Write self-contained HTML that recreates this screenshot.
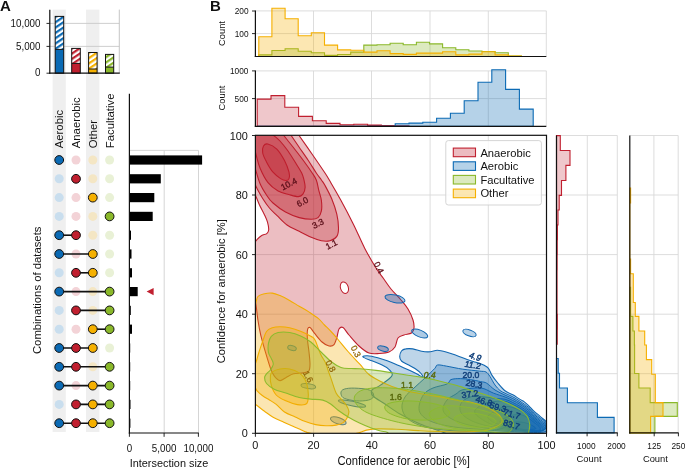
<!DOCTYPE html><html><head><meta charset="utf-8"><style>html,body{margin:0;padding:0;background:#fff;}svg{display:block;will-change:transform;}text{font-family:"Liberation Sans", sans-serif;}</style></head><body>
<svg width="685" height="468" viewBox="0 0 685 468">
<defs>
<pattern id="hb" patternUnits="userSpaceOnUse" width="4.4" height="10" patternTransform="rotate(56)"><rect width="4.4" height="10" fill="#fff"/><rect width="2.2" height="10" fill="#0b6ab4"/></pattern>
<pattern id="hr" patternUnits="userSpaceOnUse" width="4.4" height="10" patternTransform="rotate(56)"><rect width="4.4" height="10" fill="#fff"/><rect width="2.2" height="10" fill="#c01f2f"/></pattern>
<pattern id="hy" patternUnits="userSpaceOnUse" width="4.4" height="10" patternTransform="rotate(56)"><rect width="4.4" height="10" fill="#fff"/><rect width="2.2" height="10" fill="#f5b000"/></pattern>
<pattern id="hg" patternUnits="userSpaceOnUse" width="4.4" height="10" patternTransform="rotate(56)"><rect width="4.4" height="10" fill="#fff"/><rect width="2.2" height="10" fill="#8ab82a"/></pattern>
</defs>
<rect width="685" height="468" fill="#fff"/>
<rect x="52.6" y="9.6" width="13.2" height="422.4" fill="#efefef"/>
<rect x="86.0" y="9.6" width="13.4" height="422.4" fill="#efefef"/>
<line x1="49.8" y1="23.4" x2="119.3" y2="23.4" stroke="#c8c8c8" stroke-width="0.9"/>
<line x1="49.8" y1="46.4" x2="119.3" y2="46.4" stroke="#c8c8c8" stroke-width="0.9"/>
<line x1="119.3" y1="9.6" x2="119.3" y2="73.2" stroke="#c0c0c0" stroke-width="0.9"/>
<rect x="55.2" y="16.4" width="8.5" height="33.0" fill="url(#hb)"/>
<rect x="55.2" y="49.4" width="8.5" height="23.8" fill="#0b6ab4"/>
<rect x="55.2" y="16.4" width="8.5" height="56.8" fill="none" stroke="#111" stroke-width="1"/>
<line x1="55.2" y1="49.4" x2="63.7" y2="49.4" stroke="#111" stroke-width="1"/>
<rect x="71.7" y="48.4" width="8.6" height="15.0" fill="url(#hr)"/>
<rect x="71.7" y="63.4" width="8.6" height="9.8" fill="#c01f2f"/>
<rect x="71.7" y="48.4" width="8.6" height="24.8" fill="none" stroke="#111" stroke-width="1"/>
<line x1="71.7" y1="63.4" x2="80.3" y2="63.4" stroke="#111" stroke-width="1"/>
<rect x="88.6" y="52.5" width="8.5" height="16.5" fill="url(#hy)"/>
<rect x="88.6" y="69.0" width="8.5" height="4.2" fill="#f5b000"/>
<rect x="88.6" y="52.5" width="8.5" height="20.7" fill="none" stroke="#111" stroke-width="1"/>
<line x1="88.6" y1="69.0" x2="97.1" y2="69.0" stroke="#111" stroke-width="1"/>
<rect x="105.5" y="54.4" width="8.2" height="12.7" fill="url(#hg)"/>
<rect x="105.5" y="67.1" width="8.2" height="6.1" fill="#8ab82a"/>
<rect x="105.5" y="54.4" width="8.2" height="18.8" fill="none" stroke="#111" stroke-width="1"/>
<line x1="105.5" y1="67.1" x2="113.7" y2="67.1" stroke="#111" stroke-width="1"/>
<line x1="49.8" y1="9.8" x2="49.8" y2="73.8" stroke="#111" stroke-width="1.2"/>
<line x1="49.2" y1="73.2" x2="119.8" y2="73.2" stroke="#111" stroke-width="1.2"/>
<line x1="46.5" y1="23.4" x2="49.8" y2="23.4" stroke="#111" stroke-width="0.9"/>
<text x="40.5" y="26.7" font-size="9.8" text-anchor="end" font-weight="normal" fill="#111" transform="translate(40.5 26.7) scale(1 1.1) translate(-40.5 -26.7)">10,000</text>
<line x1="46.5" y1="46.4" x2="49.8" y2="46.4" stroke="#111" stroke-width="0.9"/>
<text x="40.5" y="49.699999999999996" font-size="9.8" text-anchor="end" font-weight="normal" fill="#111" transform="translate(40.5 49.699999999999996) scale(1 1.1) translate(-40.5 -49.699999999999996)">5,000</text>
<line x1="46.5" y1="73.2" x2="49.8" y2="73.2" stroke="#111" stroke-width="0.9"/>
<text x="40.5" y="76.5" font-size="9.8" text-anchor="end" font-weight="normal" fill="#111" transform="translate(40.5 76.5) scale(1 1.1) translate(-40.5 -76.5)">0</text>
<text x="63.2" y="148.2" font-size="11.3" text-anchor="start" font-weight="normal" fill="#111" transform="rotate(-90 63.2 148.2)">Aerobic</text>
<text x="80.0" y="148.2" font-size="11.3" text-anchor="start" font-weight="normal" fill="#111" transform="rotate(-90 80.0 148.2)">Anaerobic</text>
<text x="96.8" y="148.2" font-size="11.3" text-anchor="start" font-weight="normal" fill="#111" transform="rotate(-90 96.8 148.2)">Other</text>
<text x="113.6" y="148.2" font-size="11.3" text-anchor="start" font-weight="normal" fill="#111" transform="rotate(-90 113.6 148.2)">Facultative</text>
<text x="41.3" y="290.3" font-size="11.3" text-anchor="middle" font-weight="normal" fill="#111" transform="rotate(-90 41.3 290.3)">Combinations of datasets</text>
<circle cx="76.0" cy="160.0" r="4.5" fill="#f3d3d7"/>
<circle cx="92.8" cy="160.0" r="4.5" fill="#f4e6c4"/>
<circle cx="109.6" cy="160.0" r="4.5" fill="#e9f1d6"/>
<circle cx="59.2" cy="160.0" r="4.4" fill="#0b6ab4" stroke="#111" stroke-width="1"/>
<circle cx="59.2" cy="178.8" r="4.5" fill="#c9deee"/>
<circle cx="92.8" cy="178.8" r="4.5" fill="#f4e6c4"/>
<circle cx="109.6" cy="178.8" r="4.5" fill="#e9f1d6"/>
<circle cx="76.0" cy="178.8" r="4.4" fill="#c01f2f" stroke="#111" stroke-width="1"/>
<circle cx="59.2" cy="197.6" r="4.5" fill="#c9deee"/>
<circle cx="76.0" cy="197.6" r="4.5" fill="#f3d3d7"/>
<circle cx="109.6" cy="197.6" r="4.5" fill="#e9f1d6"/>
<circle cx="92.8" cy="197.6" r="4.4" fill="#f5b000" stroke="#111" stroke-width="1"/>
<circle cx="59.2" cy="216.4" r="4.5" fill="#c9deee"/>
<circle cx="76.0" cy="216.4" r="4.5" fill="#f3d3d7"/>
<circle cx="92.8" cy="216.4" r="4.5" fill="#f4e6c4"/>
<circle cx="109.6" cy="216.4" r="4.4" fill="#8ab82a" stroke="#111" stroke-width="1"/>
<circle cx="92.8" cy="235.2" r="4.5" fill="#f4e6c4"/>
<circle cx="109.6" cy="235.2" r="4.5" fill="#e9f1d6"/>
<line x1="59.2" y1="235.2" x2="76.0" y2="235.2" stroke="#111" stroke-width="1.6"/>
<circle cx="59.2" cy="235.2" r="4.4" fill="#0b6ab4" stroke="#111" stroke-width="1"/>
<circle cx="76.0" cy="235.2" r="4.4" fill="#c01f2f" stroke="#111" stroke-width="1"/>
<circle cx="76.0" cy="254.0" r="4.5" fill="#f3d3d7"/>
<circle cx="109.6" cy="254.0" r="4.5" fill="#e9f1d6"/>
<line x1="59.2" y1="254.0" x2="92.8" y2="254.0" stroke="#111" stroke-width="1.6"/>
<circle cx="59.2" cy="254.0" r="4.4" fill="#0b6ab4" stroke="#111" stroke-width="1"/>
<circle cx="92.8" cy="254.0" r="4.4" fill="#f5b000" stroke="#111" stroke-width="1"/>
<circle cx="59.2" cy="272.8" r="4.5" fill="#c9deee"/>
<circle cx="109.6" cy="272.8" r="4.5" fill="#e9f1d6"/>
<line x1="76.0" y1="272.8" x2="92.8" y2="272.8" stroke="#111" stroke-width="1.6"/>
<circle cx="76.0" cy="272.8" r="4.4" fill="#c01f2f" stroke="#111" stroke-width="1"/>
<circle cx="92.8" cy="272.8" r="4.4" fill="#f5b000" stroke="#111" stroke-width="1"/>
<circle cx="76.0" cy="291.6" r="4.5" fill="#f3d3d7"/>
<circle cx="92.8" cy="291.6" r="4.5" fill="#f4e6c4"/>
<line x1="59.2" y1="291.6" x2="109.6" y2="291.6" stroke="#111" stroke-width="1.6"/>
<circle cx="59.2" cy="291.6" r="4.4" fill="#0b6ab4" stroke="#111" stroke-width="1"/>
<circle cx="109.6" cy="291.6" r="4.4" fill="#8ab82a" stroke="#111" stroke-width="1"/>
<circle cx="59.2" cy="310.4" r="4.5" fill="#c9deee"/>
<circle cx="92.8" cy="310.4" r="4.5" fill="#f4e6c4"/>
<line x1="76.0" y1="310.4" x2="109.6" y2="310.4" stroke="#111" stroke-width="1.6"/>
<circle cx="76.0" cy="310.4" r="4.4" fill="#c01f2f" stroke="#111" stroke-width="1"/>
<circle cx="109.6" cy="310.4" r="4.4" fill="#8ab82a" stroke="#111" stroke-width="1"/>
<circle cx="59.2" cy="329.2" r="4.5" fill="#c9deee"/>
<circle cx="76.0" cy="329.2" r="4.5" fill="#f3d3d7"/>
<line x1="92.8" y1="329.2" x2="109.6" y2="329.2" stroke="#111" stroke-width="1.6"/>
<circle cx="92.8" cy="329.2" r="4.4" fill="#f5b000" stroke="#111" stroke-width="1"/>
<circle cx="109.6" cy="329.2" r="4.4" fill="#8ab82a" stroke="#111" stroke-width="1"/>
<circle cx="109.6" cy="348.0" r="4.5" fill="#e9f1d6"/>
<line x1="59.2" y1="348.0" x2="92.8" y2="348.0" stroke="#111" stroke-width="1.6"/>
<circle cx="59.2" cy="348.0" r="4.4" fill="#0b6ab4" stroke="#111" stroke-width="1"/>
<circle cx="76.0" cy="348.0" r="4.4" fill="#c01f2f" stroke="#111" stroke-width="1"/>
<circle cx="92.8" cy="348.0" r="4.4" fill="#f5b000" stroke="#111" stroke-width="1"/>
<circle cx="92.8" cy="366.8" r="4.5" fill="#f4e6c4"/>
<line x1="59.2" y1="366.8" x2="109.6" y2="366.8" stroke="#111" stroke-width="1.6"/>
<circle cx="59.2" cy="366.8" r="4.4" fill="#0b6ab4" stroke="#111" stroke-width="1"/>
<circle cx="76.0" cy="366.8" r="4.4" fill="#c01f2f" stroke="#111" stroke-width="1"/>
<circle cx="109.6" cy="366.8" r="4.4" fill="#8ab82a" stroke="#111" stroke-width="1"/>
<circle cx="76.0" cy="385.6" r="4.5" fill="#f3d3d7"/>
<line x1="59.2" y1="385.6" x2="109.6" y2="385.6" stroke="#111" stroke-width="1.6"/>
<circle cx="59.2" cy="385.6" r="4.4" fill="#0b6ab4" stroke="#111" stroke-width="1"/>
<circle cx="92.8" cy="385.6" r="4.4" fill="#f5b000" stroke="#111" stroke-width="1"/>
<circle cx="109.6" cy="385.6" r="4.4" fill="#8ab82a" stroke="#111" stroke-width="1"/>
<circle cx="59.2" cy="404.4" r="4.5" fill="#c9deee"/>
<line x1="76.0" y1="404.4" x2="109.6" y2="404.4" stroke="#111" stroke-width="1.6"/>
<circle cx="76.0" cy="404.4" r="4.4" fill="#c01f2f" stroke="#111" stroke-width="1"/>
<circle cx="92.8" cy="404.4" r="4.4" fill="#f5b000" stroke="#111" stroke-width="1"/>
<circle cx="109.6" cy="404.4" r="4.4" fill="#8ab82a" stroke="#111" stroke-width="1"/>
<line x1="59.2" y1="423.2" x2="109.6" y2="423.2" stroke="#111" stroke-width="1.6"/>
<circle cx="59.2" cy="423.2" r="4.4" fill="#0b6ab4" stroke="#111" stroke-width="1"/>
<circle cx="76.0" cy="423.2" r="4.4" fill="#c01f2f" stroke="#111" stroke-width="1"/>
<circle cx="92.8" cy="423.2" r="4.4" fill="#f5b000" stroke="#111" stroke-width="1"/>
<circle cx="109.6" cy="423.2" r="4.4" fill="#8ab82a" stroke="#111" stroke-width="1"/>
<line x1="164.2" y1="150.4" x2="164.2" y2="433" stroke="#d0d0d0" stroke-width="0.9"/>
<line x1="198.5" y1="150.4" x2="198.5" y2="433" stroke="#d0d0d0" stroke-width="0.9"/>
<line x1="129.4" y1="150.4" x2="198.5" y2="150.4" stroke="#d0d0d0" stroke-width="0.9"/>
<rect x="129.4" y="155.4" width="72.7" height="9.2" fill="#000"/>
<rect x="129.4" y="174.2" width="31.4" height="9.2" fill="#000"/>
<rect x="129.4" y="193.0" width="24.9" height="9.2" fill="#000"/>
<rect x="129.4" y="211.8" width="23.3" height="9.2" fill="#000"/>
<rect x="129.4" y="230.6" width="1.6" height="9.2" fill="#000"/>
<rect x="129.4" y="249.4" width="2.1" height="9.2" fill="#000"/>
<rect x="129.4" y="268.2" width="2.6" height="9.2" fill="#000"/>
<rect x="129.4" y="287.0" width="8.3" height="9.2" fill="#000"/>
<rect x="129.4" y="305.8" width="1.4" height="9.2" fill="#000"/>
<rect x="129.4" y="324.6" width="2.6" height="9.2" fill="#000"/>
<rect x="129.4" y="343.4" width="0.8" height="9.2" fill="#000"/>
<rect x="129.4" y="362.2" width="0.8" height="9.2" fill="#000"/>
<rect x="129.4" y="381.0" width="0.8" height="9.2" fill="#000"/>
<rect x="129.4" y="399.8" width="1.1" height="9.2" fill="#000"/>
<rect x="129.4" y="418.6" width="1.0" height="9.2" fill="#000"/>
<path d="M146.6,291.6 L153.6,288.0 L153.6,295.2Z" fill="#c01f2f"/>
<line x1="129.4" y1="93.7" x2="129.4" y2="433.6" stroke="#111" stroke-width="1.2"/>
<line x1="128.8" y1="433.0" x2="198.8" y2="433.0" stroke="#111" stroke-width="1.2"/>
<line x1="129.4" y1="433" x2="129.4" y2="436.8" stroke="#111" stroke-width="0.9"/>
<text x="129.4" y="451.7" font-size="9.8" text-anchor="middle" font-weight="normal" fill="#111" transform="translate(129.4 451.7) scale(1 1.12) translate(-129.4 -451.7)">0</text>
<line x1="164.1" y1="433" x2="164.1" y2="436.8" stroke="#111" stroke-width="0.9"/>
<text x="164.1" y="451.7" font-size="9.8" text-anchor="middle" font-weight="normal" fill="#111" transform="translate(164.1 451.7) scale(1 1.12) translate(-164.1 -451.7)">5,000</text>
<line x1="198.4" y1="433" x2="198.4" y2="436.8" stroke="#111" stroke-width="0.9"/>
<text x="198.4" y="451.7" font-size="9.8" text-anchor="middle" font-weight="normal" fill="#111" transform="translate(198.4 451.7) scale(1 1.12) translate(-198.4 -451.7)">10,000</text>
<text x="169.0" y="466.8" font-size="10.9" text-anchor="middle" font-weight="normal" fill="#111">Intersection size</text>
<line x1="313.5" y1="10.9" x2="313.5" y2="56.5" stroke="#d9d9d9" stroke-width="0.9"/>
<line x1="371.5" y1="10.9" x2="371.5" y2="56.5" stroke="#d9d9d9" stroke-width="0.9"/>
<line x1="430.0" y1="10.9" x2="430.0" y2="56.5" stroke="#d9d9d9" stroke-width="0.9"/>
<line x1="488.3" y1="10.9" x2="488.3" y2="56.5" stroke="#d9d9d9" stroke-width="0.9"/>
<line x1="546.3" y1="10.9" x2="546.3" y2="56.5" stroke="#d9d9d9" stroke-width="0.9"/>
<line x1="255.4" y1="10.9" x2="546.3" y2="10.9" stroke="#d9d9d9" stroke-width="0.9"/>
<line x1="255.4" y1="33.6" x2="546.3" y2="33.6" stroke="#d9d9d9" stroke-width="0.9"/>
<path d="M258.8,56.5 L258.8,54.9 L271.9,54.9 L271.9,50.5 L285.1,50.5 L285.1,48.8 L298.2,48.8 L298.2,51.2 L311.3,51.2 L311.3,52.7 L324.5,52.7 L324.5,55.4 L337.6,55.4 L337.6,54.5 L350.7,54.5 L350.7,52.1 L363.8,52.1 L363.8,45.1 L377.0,45.1 L377.0,44.7 L390.1,44.7 L390.1,43.3 L403.2,43.3 L403.2,44.7 L416.4,44.7 L416.4,42.3 L429.5,42.3 L429.5,43.9 L442.6,43.9 L442.6,47.8 L455.8,47.8 L455.8,49.7 L468.9,49.7 L468.9,51.0 L482.0,51.0 L482.0,51.5 L495.1,51.5 L495.1,52.8 L508.3,52.8 L508.3,56.0 L521.4,56.0 L521.4,56.5Z" fill="#8ab82a" fill-opacity="0.3" stroke="#8ab82a" stroke-width="1.1" stroke-linejoin="miter"/>
<path d="M258.8,56.5 L258.8,36.7 L271.9,36.7 L271.9,8.3 L285.1,8.3 L285.1,18.8 L298.2,18.8 L298.2,35.7 L311.3,35.7 L311.3,32.8 L324.5,32.8 L324.5,45.1 L337.6,45.1 L337.6,49.9 L350.7,49.9 L350.7,50.3 L363.8,50.3 L363.8,52.1 L377.0,52.1 L377.0,50.7 L390.1,50.7 L390.1,53.6 L403.2,53.6 L403.2,54.4 L416.4,54.4 L416.4,53.1 L429.5,53.1 L429.5,53.1 L442.6,53.1 L442.6,51.8 L455.8,51.8 L455.8,54.9 L468.9,54.9 L468.9,54.1 L482.0,54.1 L482.0,51.8 L495.1,51.8 L495.1,54.9 L508.3,54.9 L508.3,56.0 L521.4,56.0 L521.4,56.5Z" fill="#f5b000" fill-opacity="0.3" stroke="#f5b000" stroke-width="1.1"/>
<line x1="255.4" y1="10.5" x2="255.4" y2="57.0" stroke="#111" stroke-width="1.2"/>
<line x1="254.8" y1="56.5" x2="546.3" y2="56.5" stroke="#111" stroke-width="1.2"/>
<line x1="252" y1="11.0" x2="255.4" y2="11.0" stroke="#111" stroke-width="0.9"/>
<text x="248.6" y="14.0" font-size="8.3" text-anchor="end" font-weight="normal" fill="#111">200</text>
<line x1="252" y1="33.6" x2="255.4" y2="33.6" stroke="#111" stroke-width="0.9"/>
<text x="248.6" y="36.6" font-size="8.3" text-anchor="end" font-weight="normal" fill="#111">100</text>
<text x="225.3" y="33.5" font-size="9.3" text-anchor="middle" font-weight="normal" fill="#111" transform="rotate(-90 225.3 33.5)">Count</text>
<line x1="313.5" y1="70.9" x2="313.5" y2="126.3" stroke="#d9d9d9" stroke-width="0.9"/>
<line x1="371.5" y1="70.9" x2="371.5" y2="126.3" stroke="#d9d9d9" stroke-width="0.9"/>
<line x1="430.0" y1="70.9" x2="430.0" y2="126.3" stroke="#d9d9d9" stroke-width="0.9"/>
<line x1="488.3" y1="70.9" x2="488.3" y2="126.3" stroke="#d9d9d9" stroke-width="0.9"/>
<line x1="546.3" y1="70.9" x2="546.3" y2="126.3" stroke="#d9d9d9" stroke-width="0.9"/>
<line x1="255.4" y1="70.9" x2="546.3" y2="70.9" stroke="#d9d9d9" stroke-width="0.9"/>
<line x1="255.4" y1="98.6" x2="546.3" y2="98.6" stroke="#d9d9d9" stroke-width="0.9"/>
<path d="M257.2,126.3 L257.2,99.1 L271.0,99.1 L271.0,95.6 L284.8,95.6 L284.8,107.3 L298.6,107.3 L298.6,116.4 L312.4,116.4 L312.4,120.7 L326.2,120.7 L326.2,123.4 L340.0,123.4 L340.0,124.8 L353.8,124.8 L353.8,124.2 L367.6,124.2 L367.6,125.1 L381.4,125.1 L381.4,125.6 L395.2,125.6 L395.2,125.8 L409.0,125.8 L409.0,126.3Z" fill="#c01f2f" fill-opacity="0.25" stroke="#c01f2f" stroke-width="1.1"/>
<path d="M257.2,126.3 L257.2,126.3 L271.0,126.3 L271.0,126.3 L284.8,126.3 L284.8,126.3 L298.6,126.3 L298.6,126.3 L312.4,126.3 L312.4,126.3 L326.2,126.3 L326.2,126.3 L340.0,126.3 L340.0,126.3 L353.8,126.3 L353.8,126.3 L367.6,126.3 L367.6,126.3 L381.4,126.3 L381.4,126.3 L395.2,126.3 L395.2,123.8 L409.0,123.8 L409.0,123.1 L422.8,123.1 L422.8,122.3 L436.6,122.3 L436.6,118.3 L450.4,118.3 L450.4,113.3 L464.2,113.3 L464.2,100.7 L478.0,100.7 L478.0,82.3 L491.8,82.3 L491.8,69.7 L505.6,69.7 L505.6,89.4 L519.4,89.4 L519.4,109.1 L533.2,109.1 L533.2,126.3Z" fill="#0b6ab4" fill-opacity="0.3" stroke="#0b6ab4" stroke-width="1.1"/>
<line x1="255.4" y1="70.5" x2="255.4" y2="126.8" stroke="#111" stroke-width="1.2"/>
<line x1="254.8" y1="126.3" x2="546.3" y2="126.3" stroke="#111" stroke-width="1.2"/>
<line x1="252" y1="70.9" x2="255.4" y2="70.9" stroke="#111" stroke-width="0.9"/>
<text x="248.4" y="73.9" font-size="8.3" text-anchor="end" font-weight="normal" fill="#111">1000</text>
<line x1="252" y1="98.6" x2="255.4" y2="98.6" stroke="#111" stroke-width="0.9"/>
<text x="248.4" y="101.6" font-size="8.3" text-anchor="end" font-weight="normal" fill="#111">500</text>
<text x="225.3" y="98.0" font-size="9.3" text-anchor="middle" font-weight="normal" fill="#111" transform="rotate(-90 225.3 98.0)">Count</text>
<clipPath id="mc"><rect x="255.4" y="135.3" width="291.1" height="298.0"/></clipPath>
<line x1="313.6" y1="135.3" x2="313.6" y2="433.3" stroke="#d9d9d9" stroke-width="0.9"/>
<line x1="255.4" y1="373.7" x2="546.5" y2="373.7" stroke="#d9d9d9" stroke-width="0.9"/>
<line x1="371.8" y1="135.3" x2="371.8" y2="433.3" stroke="#d9d9d9" stroke-width="0.9"/>
<line x1="255.4" y1="314.2" x2="546.5" y2="314.2" stroke="#d9d9d9" stroke-width="0.9"/>
<line x1="430.1" y1="135.3" x2="430.1" y2="433.3" stroke="#d9d9d9" stroke-width="0.9"/>
<line x1="255.4" y1="254.6" x2="546.5" y2="254.6" stroke="#d9d9d9" stroke-width="0.9"/>
<line x1="488.3" y1="135.3" x2="488.3" y2="433.3" stroke="#d9d9d9" stroke-width="0.9"/>
<line x1="255.4" y1="195.0" x2="546.5" y2="195.0" stroke="#d9d9d9" stroke-width="0.9"/>
<g clip-path="url(#mc)">
<path d="M291.7,125.0 C292.9,126.7 295.3,130.2 298.7,135.0 C302.1,139.8 307.6,147.7 312.0,154.0 C316.4,160.3 321.8,168.2 325.0,173.0 C328.2,177.8 328.3,178.4 331.0,183.0 C333.7,187.6 337.2,193.6 341.0,200.5 C344.8,207.4 349.5,216.4 353.5,224.4 C357.5,232.4 361.1,241.1 364.8,248.4 C368.6,255.7 372.9,263.0 376.0,268.0 C379.1,273.0 381.0,275.0 383.5,278.5 C386.0,282.0 388.1,285.4 391.0,289.0 C393.9,292.6 398.2,296.7 401.0,300.0 C403.8,303.3 406.0,305.7 408.0,309.0 C410.0,312.3 412.0,316.8 413.0,320.0 C414.0,323.2 414.2,325.8 414.0,328.0 C413.8,330.2 413.2,331.8 411.5,333.0 C409.8,334.2 406.2,334.2 404.0,335.0 C401.8,335.8 399.5,336.0 398.0,338.0 C396.5,340.0 396.5,344.7 395.0,347.0 C393.5,349.3 391.7,350.9 389.0,352.0 C386.3,353.1 382.3,353.3 379.0,353.5 C375.7,353.7 372.3,354.2 369.0,353.0 C365.7,351.8 362.3,349.0 359.0,346.0 C355.7,343.0 351.7,338.1 349.0,335.0 C346.3,331.9 344.7,328.5 343.0,327.5 C341.3,326.5 340.0,327.4 339.0,329.0 C338.0,330.6 337.8,334.4 337.0,337.0 C336.2,339.6 335.3,343.1 334.0,344.6 C332.7,346.1 331.0,346.4 329.0,346.0 C327.0,345.6 324.4,344.1 322.0,342.0 C319.6,339.9 316.6,335.8 314.6,333.4 C312.6,331.0 311.2,328.1 310.0,327.5 C308.8,326.9 307.9,327.9 307.5,330.0 C307.1,332.1 307.2,336.3 307.5,340.0 C307.8,343.7 308.6,348.0 309.0,352.0 C309.4,356.0 310.0,360.8 310.0,364.0 C310.0,367.2 309.9,369.5 308.8,371.0 C307.7,372.5 305.7,372.4 303.1,372.9 C300.6,373.4 296.4,373.0 293.5,373.8 C290.6,374.6 288.1,376.6 285.8,377.7 C283.6,378.8 281.9,380.9 280.0,380.6 C278.1,380.3 275.8,377.9 274.2,375.8 C272.6,373.7 271.8,372.0 270.4,368.1 C269.0,364.2 267.2,358.1 265.6,352.7 C264.0,347.2 262.1,340.8 260.8,335.4 C259.5,329.9 258.7,325.1 257.9,320.0 C257.1,314.9 256.8,310.0 256.0,305.0 C255.2,300.0 253.5,292.5 253.0,290.0 L250,290 L250,246 L253.0,245.0 C253.7,244.1 255.8,241.0 257.2,239.4 C258.6,237.8 260.1,236.5 261.7,235.5 C263.3,234.5 265.6,234.6 266.8,233.6 C268.0,232.6 268.6,231.6 268.7,229.7 C268.8,227.8 268.2,224.6 267.5,222.1 C266.8,219.6 265.6,217.2 264.3,214.4 C263.0,211.6 260.8,207.8 259.5,205.0 C258.2,202.2 257.3,199.7 256.4,197.5 C255.4,195.3 254.2,192.9 253.8,192.0 L250,189 L250,125Z" fill="#be1e2d" fill-opacity="0.29" stroke="#be1e2d" stroke-width="1.1" stroke-linejoin="round"/>
<path d="M286.0,128.0 C286.8,129.2 288.6,131.8 290.8,135.0 C293.0,138.2 296.1,142.8 299.0,147.0 C301.9,151.2 305.1,155.7 308.0,160.0 C310.9,164.3 314.1,169.7 316.3,173.0 C318.5,176.3 320.0,178.0 321.4,180.0 C322.8,182.0 323.1,182.0 324.8,185.1 C326.5,188.2 329.7,194.0 331.7,198.8 C333.7,203.7 335.7,209.3 336.8,214.2 C337.9,219.0 338.5,224.2 338.5,227.9 C338.5,231.6 338.2,234.3 336.8,236.4 C335.4,238.5 332.6,240.0 330.0,240.7 C327.4,241.4 324.5,241.3 321.4,240.7 C318.3,240.1 314.9,238.9 311.2,237.3 C307.5,235.7 303.2,233.4 299.2,231.3 C295.2,229.2 290.7,227.6 287.0,225.0 C283.3,222.4 280.0,218.4 277.1,215.6 C274.2,212.8 271.8,210.8 269.4,208.0 C267.0,205.2 264.9,202.0 263.0,199.0 C261.1,196.0 259.3,192.8 257.8,190.0 C256.3,187.2 255.1,184.3 254.0,182.0 C252.9,179.7 251.5,177.0 251.0,176.0 L250.0,176.0 L250.0,128.0Z" fill="#be1e2d" fill-opacity="0.29" stroke="#be1e2d" stroke-width="1.1" stroke-linejoin="round"/>
<path d="M278.5,128.0 C279.3,129.2 281.0,131.8 283.4,135.0 C285.8,138.2 289.7,142.8 293.0,147.0 C296.3,151.2 299.8,155.7 303.0,160.0 C306.2,164.3 310.0,169.7 312.2,173.0 C314.4,176.3 315.2,177.1 316.3,180.0 C317.4,182.9 318.0,186.9 318.8,190.3 C319.6,193.7 321.0,197.1 321.4,200.5 C321.8,203.9 322.0,208.0 321.4,210.8 C320.8,213.7 319.7,216.2 318.0,217.6 C316.3,219.0 314.3,219.3 311.2,219.3 C308.1,219.3 303.5,218.8 299.2,217.6 C294.9,216.4 289.9,214.4 285.5,212.0 C281.1,209.6 276.2,205.8 273.0,203.0 C269.8,200.2 268.6,198.2 266.5,195.0 C264.4,191.8 261.9,187.9 260.1,183.7 C258.3,179.5 256.7,173.0 255.6,169.6 C254.5,166.2 253.8,164.1 253.5,163.0 L250.0,163.0 L250.0,128.0Z" fill="#be1e2d" fill-opacity="0.29" stroke="#be1e2d" stroke-width="1.1" stroke-linejoin="round"/>
<path d="M268.5,129.0 C269.3,130.0 271.4,133.0 273.3,135.0 C275.2,137.0 277.6,138.3 280.0,141.0 C282.4,143.7 285.2,147.0 288.0,151.0 C290.8,155.0 294.6,161.3 296.9,165.0 C299.2,168.7 300.6,170.8 301.7,173.0 C302.8,175.2 303.0,176.1 303.6,178.5 C304.2,180.9 305.2,184.8 305.1,187.4 C305.0,190.0 304.0,192.7 302.9,194.2 C301.8,195.7 300.8,196.5 298.4,196.6 C296.0,196.7 292.1,195.4 288.7,194.5 C285.3,193.6 281.6,193.0 278.1,191.0 C274.6,189.0 270.8,186.2 267.8,182.4 C264.8,178.6 262.0,172.8 260.1,168.3 C258.2,163.8 257.2,158.9 256.3,155.5 C255.4,152.1 254.8,149.2 254.5,148.0 L250.0,148.0 L250.0,129.0Z" fill="#be1e2d" fill-opacity="0.29" stroke="#be1e2d" stroke-width="1.1" stroke-linejoin="round"/>
<path d="M263.5,146.0 C264.4,144.5 265.6,143.5 267.8,144.0 C270.0,144.5 274.0,146.3 276.8,149.1 C279.6,151.9 282.5,156.8 284.5,160.6 C286.5,164.4 288.2,169.2 289.0,172.2 C289.8,175.2 289.5,177.2 289.0,178.6 C288.5,180.0 287.2,180.5 285.8,180.5 C284.4,180.5 282.7,180.0 280.6,178.6 C278.5,177.2 275.4,175.0 273.0,172.2 C270.6,169.4 268.2,165.1 266.5,161.9 C264.8,158.7 263.2,155.7 262.7,153.0 C262.2,150.3 262.6,147.5 263.5,146.0Z" fill="#be1e2d" fill-opacity="0.29" stroke="#be1e2d" stroke-width="1.1" stroke-linejoin="round"/>
<ellipse cx="344.4" cy="287.7" rx="3.9" ry="5.9" transform="rotate(-18 344.4 287.7)" fill="#fff" stroke="#be1e2d" stroke-width="1.0"/>
<path d="M363.0,357.0 C362.2,356.1 364.8,355.6 367.3,355.7 C369.8,355.8 374.5,356.9 377.8,357.8 C381.1,358.7 384.2,359.7 387.2,360.8 C390.2,361.9 393.1,363.1 395.7,364.2 C398.3,365.3 400.4,366.4 403.0,367.5 C405.6,368.6 408.5,369.8 411.0,371.0 C413.5,372.2 416.0,373.4 418.0,374.5 C420.0,375.6 422.5,377.7 423.0,377.5 C423.5,377.3 422.3,375.0 421.0,373.5 C419.7,372.0 417.2,370.0 415.0,368.5 C412.8,367.0 409.9,365.8 407.6,364.5 C405.4,363.2 402.8,362.3 401.5,361.0 C400.2,359.7 399.7,358.2 399.7,356.5 C399.7,354.8 400.5,352.3 401.5,351.0 C402.5,349.7 403.9,349.2 405.8,348.9 C407.7,348.5 410.2,348.5 412.8,348.9 C415.4,349.3 418.7,350.8 421.6,351.3 C424.5,351.8 427.7,352.0 430.3,351.8 C432.9,351.6 434.7,350.3 437.3,350.3 C439.9,350.3 442.9,351.1 446.1,352.0 C449.3,352.9 453.1,354.3 456.6,355.5 C460.1,356.7 464.0,358.3 467.1,359.4 C470.2,360.5 472.8,361.3 475.0,362.0 C477.2,362.7 478.6,363.0 480.6,363.8 C482.6,364.6 485.5,366.0 487.0,367.0 C488.5,368.0 488.5,368.6 489.4,370.0 C490.3,371.4 490.8,373.4 492.2,375.6 C493.6,377.8 495.7,380.5 497.8,383.0 C499.9,385.5 502.5,388.8 505.0,390.8 C507.5,392.8 510.3,393.4 512.8,394.8 C515.3,396.2 518.0,398.2 520.0,399.4 C522.0,400.6 523.1,401.0 524.6,402.1 C526.1,403.2 527.2,404.3 528.8,405.8 C530.4,407.3 532.2,409.5 534.2,411.3 C536.2,413.1 538.7,415.1 540.6,416.8 C542.5,418.5 544.7,419.9 545.9,421.3 C547.1,422.7 547.1,423.2 548.0,425.0 C548.9,426.8 552.3,429.2 551.0,432.0 C549.7,434.8 555.2,440.3 540.0,442.0 C524.8,443.7 475.8,443.5 460.0,442.0 C444.2,440.5 451.7,436.0 445.0,433.0 C438.3,430.0 427.5,427.2 420.0,424.0 C412.5,420.8 405.8,417.3 400.0,414.0 C394.2,410.7 389.5,407.0 385.0,404.0 C380.5,401.0 375.2,398.3 373.0,396.0 C370.8,393.7 371.1,391.6 372.0,390.0 C372.9,388.4 375.8,388.2 378.6,386.4 C381.4,384.6 386.6,381.0 388.9,379.0 C391.2,377.0 392.3,376.0 392.3,374.4 C392.3,372.8 390.6,370.9 388.9,369.3 C387.2,367.7 385.0,366.4 382.1,365.0 C379.2,363.6 375.0,362.1 371.8,360.8 C368.6,359.5 363.8,357.9 363.0,357.0Z" fill="#1167b1" fill-opacity="0.28" stroke="#1167b1" stroke-width="1.1" stroke-linejoin="round"/>
<path d="M434.7,368.5 C436.8,366.3 435.6,365.4 437.5,365.0 C439.4,364.6 442.1,365.4 446.3,366.1 C450.5,366.8 457.3,368.4 462.8,369.2 C468.3,370.0 475.5,370.6 479.4,371.1 C483.3,371.6 484.2,371.1 486.0,372.0 C487.8,372.9 488.5,374.3 490.0,376.5 C491.5,378.7 493.3,382.7 495.0,385.0 C496.7,387.3 498.3,389.1 500.0,390.5 C501.7,391.9 502.9,392.1 505.0,393.2 C507.1,394.2 510.3,395.5 512.8,396.8 C515.3,398.1 517.3,399.4 520.0,401.2 C522.7,403.0 526.4,405.5 528.8,407.5 C531.2,409.5 532.2,411.2 534.2,413.0 C536.2,414.8 538.6,416.9 540.6,418.5 C542.6,420.1 544.9,420.4 546.0,422.8 C547.1,425.2 551.3,431.2 547.0,433.0 C542.7,434.8 531.2,433.7 520.0,433.5 C508.8,433.3 491.7,432.5 480.0,432.0 C468.3,431.5 459.2,431.3 450.0,430.5 C440.8,429.7 432.0,428.9 425.0,427.0 C418.0,425.1 411.8,422.2 408.0,419.0 C404.2,415.8 402.5,411.7 402.0,408.0 C401.5,404.3 403.0,400.3 405.0,397.0 C407.0,393.7 410.7,391.2 414.0,388.0 C417.3,384.8 421.6,381.2 425.0,378.0 C428.4,374.8 432.6,370.7 434.7,368.5Z" fill="#1167b1" fill-opacity="0.28" stroke="#1167b1" stroke-width="1.0" stroke-linejoin="round"/>
<path d="M447.0,384.0 C450.0,382.6 448.8,380.5 451.0,379.6 C453.2,378.7 457.1,378.6 460.3,378.6 C463.5,378.6 467.0,379.1 470.4,379.6 C473.8,380.1 477.9,381.0 480.6,381.6 C483.3,382.2 484.3,381.8 486.7,383.2 C489.1,384.6 491.9,388.0 495.0,390.0 C498.1,392.0 502.0,393.7 505.0,395.1 C508.0,396.5 510.3,397.3 512.8,398.6 C515.3,399.9 517.3,401.1 520.0,402.8 C522.7,404.5 526.4,407.1 528.8,409.0 C531.2,410.9 532.2,412.7 534.2,414.5 C536.2,416.3 538.6,418.3 540.6,420.0 C542.6,421.7 545.4,422.5 546.0,424.5 C546.6,426.5 550.0,430.8 544.0,432.0 C538.0,433.2 520.7,431.9 510.0,431.5 C499.3,431.1 488.7,430.0 480.0,429.3 C471.3,428.6 464.5,428.3 458.0,427.5 C451.5,426.7 446.0,425.8 441.0,424.5 C436.0,423.2 431.5,422.0 428.0,420.0 C424.5,418.0 421.4,415.4 420.0,412.7 C418.6,410.0 418.8,407.1 419.5,404.0 C420.2,400.9 421.8,396.7 424.0,394.0 C426.2,391.3 429.2,389.7 433.0,388.0 C436.8,386.3 444.0,385.4 447.0,384.0Z" fill="#1167b1" fill-opacity="0.28" stroke="#1167b1" stroke-width="1.0" stroke-linejoin="round"/>
<path d="M456.0,394.0 C458.5,392.3 458.8,391.0 462.0,390.0 C465.2,389.0 471.4,388.2 475.0,388.0 C478.6,387.8 480.8,387.8 483.9,388.7 C487.0,389.6 490.1,391.8 493.6,393.2 C497.1,394.6 501.8,395.8 505.0,397.0 C508.2,398.2 510.3,399.3 512.8,400.5 C515.3,401.7 517.3,402.7 520.0,404.4 C522.7,406.1 526.4,408.6 528.8,410.5 C531.2,412.4 532.2,414.2 534.2,416.0 C536.2,417.8 538.6,419.8 540.6,421.5 C542.6,423.2 546.1,424.3 546.0,426.0 C545.9,427.7 546.0,430.8 540.0,431.5 C534.0,432.2 519.2,431.1 510.0,430.5 C500.8,429.9 492.5,429.1 485.0,428.0 C477.5,426.9 470.8,425.7 465.0,424.0 C459.2,422.3 453.7,420.3 450.0,418.0 C446.3,415.7 443.5,413.0 443.0,410.0 C442.5,407.0 444.8,402.7 447.0,400.0 C449.2,397.3 453.5,395.7 456.0,394.0Z" fill="#1167b1" fill-opacity="0.28" stroke="#1167b1" stroke-width="1.0" stroke-linejoin="round"/>
<path d="M463.0,401.0 C465.0,399.2 468.3,397.2 472.0,396.5 C475.7,395.8 481.0,396.7 485.0,397.0 C489.0,397.3 492.7,398.1 496.0,398.5 C499.3,398.9 502.2,398.5 505.0,399.2 C507.8,399.9 510.3,401.3 512.8,402.5 C515.3,403.7 517.3,404.7 520.0,406.3 C522.7,407.9 526.4,410.4 528.8,412.3 C531.2,414.2 532.2,415.7 534.2,417.5 C536.2,419.3 538.6,421.3 540.6,423.0 C542.6,424.7 546.4,426.2 546.0,427.5 C545.6,428.8 544.0,430.7 538.0,431.0 C532.0,431.3 518.3,430.3 510.0,429.5 C501.7,428.7 494.3,427.4 488.0,426.0 C481.7,424.6 476.3,423.0 472.0,421.0 C467.7,419.0 464.0,416.3 462.0,414.0 C460.0,411.7 459.8,409.2 460.0,407.0 C460.2,404.8 461.0,402.8 463.0,401.0Z" fill="#1167b1" fill-opacity="0.28" stroke="#1167b1" stroke-width="1.0" stroke-linejoin="round"/>
<path d="M476.0,409.0 C477.5,407.4 480.8,404.8 484.0,403.5 C487.2,402.2 491.5,401.9 495.0,401.5 C498.5,401.1 502.0,400.8 505.0,401.3 C508.0,401.8 510.3,403.4 512.8,404.5 C515.3,405.6 517.3,406.6 520.0,408.2 C522.7,409.8 526.4,412.2 528.8,414.0 C531.2,415.8 532.2,417.2 534.2,419.0 C536.2,420.8 538.8,422.8 540.6,424.5 C542.4,426.2 545.9,427.9 545.0,429.0 C544.1,430.1 540.8,431.1 535.0,431.0 C529.2,430.9 517.2,429.6 510.0,428.5 C502.8,427.4 497.0,426.2 492.0,424.5 C487.0,422.8 482.8,419.9 480.0,418.0 C477.2,416.1 475.7,414.5 475.0,413.0 C474.3,411.5 474.5,410.6 476.0,409.0Z" fill="#1167b1" fill-opacity="0.28" stroke="#1167b1" stroke-width="1.0" stroke-linejoin="round"/>
<path d="M488.0,416.0 C489.3,414.5 494.2,411.6 497.0,410.0 C499.8,408.4 502.4,406.9 505.0,406.5 C507.6,406.1 510.3,406.8 512.8,407.5 C515.3,408.2 517.3,409.1 520.0,410.5 C522.7,411.9 526.4,414.3 528.8,416.0 C531.2,417.7 532.2,418.8 534.2,420.5 C536.2,422.2 539.1,424.4 540.6,426.0 C542.1,427.6 544.8,429.2 543.0,430.0 C541.2,430.8 535.5,431.4 530.0,431.0 C524.5,430.6 515.8,428.8 510.0,427.5 C504.2,426.2 498.5,424.4 495.0,423.0 C491.5,421.6 490.2,420.2 489.0,419.0 C487.8,417.8 486.7,417.5 488.0,416.0Z" fill="#1167b1" fill-opacity="0.28" stroke="#1167b1" stroke-width="1.0" stroke-linejoin="round"/>
<path d="M500.0,421.0 C500.8,419.5 506.7,417.1 510.0,416.0 C513.3,414.9 516.9,414.1 520.0,414.5 C523.1,414.9 526.4,417.2 528.8,418.5 C531.2,419.8 532.3,421.0 534.2,422.5 C536.1,424.0 539.4,426.2 540.0,427.5 C540.6,428.8 541.3,430.2 538.0,430.5 C534.7,430.8 525.5,429.9 520.0,429.0 C514.5,428.1 508.3,426.3 505.0,425.0 C501.7,423.7 499.2,422.5 500.0,421.0Z" fill="#1167b1" fill-opacity="0.28" stroke="#1167b1" stroke-width="1.0" stroke-linejoin="round"/>
<path d="M507.0,425.0 C508.0,424.0 512.8,422.3 516.0,422.0 C519.2,421.7 523.2,422.3 526.0,423.0 C528.8,423.7 531.5,425.0 533.0,426.0 C534.5,427.0 536.8,428.4 535.0,429.0 C533.2,429.6 526.2,429.7 522.0,429.5 C517.8,429.3 512.5,428.8 510.0,428.0 C507.5,427.2 506.0,426.0 507.0,425.0Z" fill="#1167b1" fill-opacity="0.28" stroke="#1167b1" stroke-width="1.0" stroke-linejoin="round"/>
<ellipse cx="395" cy="298.8" rx="10.2" ry="3.8" transform="rotate(12 395 298.8)" fill="#1167b1" fill-opacity="0.35" stroke="#1167b1" stroke-width="1.0"/>
<ellipse cx="419.7" cy="333.5" rx="8.6" ry="3.4" transform="rotate(22 419.7 333.5)" fill="#1167b1" fill-opacity="0.35" stroke="#1167b1" stroke-width="1.0"/>
<ellipse cx="469.5" cy="333" rx="7.0" ry="3.0" transform="rotate(20 469.5 333)" fill="#1167b1" fill-opacity="0.3" stroke="#1167b1" stroke-width="1.0"/>
<ellipse cx="383" cy="348.6" rx="5.5" ry="2.4" transform="rotate(15 383 348.6)" fill="#1167b1" fill-opacity="0.35" stroke="#1167b1" stroke-width="1.0"/>
<ellipse cx="292" cy="348" rx="4.4" ry="2.4" transform="rotate(15 292 348)" fill="#1167b1" fill-opacity="0.3" stroke="#1167b1" stroke-width="1.0"/>
<ellipse cx="308.3" cy="386.2" rx="7.4" ry="2.4" transform="rotate(8 308.3 386.2)" fill="#1167b1" fill-opacity="0.3" stroke="#1167b1" stroke-width="1.0"/>
<ellipse cx="338.3" cy="420.8" rx="8.2" ry="3.2" transform="rotate(18 338.3 420.8)" fill="#1167b1" fill-opacity="0.3" stroke="#1167b1" stroke-width="1.0"/>
<ellipse cx="352" cy="403.5" rx="14" ry="2.2" transform="rotate(12 352 403.5)" fill="#1167b1" fill-opacity="0.3" stroke="#1167b1" stroke-width="1.0"/>
<path d="M342.7,389.8 C344.4,388.8 347.6,388.2 351.3,388.1 C355.0,388.0 361.6,388.4 365.0,389.0 C368.4,389.6 370.4,390.2 371.8,391.5 C373.2,392.8 374.1,395.3 373.5,396.7 C372.9,398.1 371.2,399.4 368.4,400.1 C365.5,400.8 360.4,401.2 356.4,400.9 C352.4,400.6 347.0,399.5 344.4,398.4 C341.8,397.3 341.3,395.5 341.0,394.1 C340.7,392.7 341.0,390.8 342.7,389.8Z" fill="#1167b1" fill-opacity="0.3" stroke="#1167b1" stroke-width="1.0" stroke-linejoin="round"/>
<path d="M255.0,305.2 C256.3,303.3 256.3,298.4 257.9,296.5 C259.5,294.6 262.2,294.3 264.6,293.7 C267.0,293.1 269.7,292.8 272.3,293.1 C274.9,293.4 277.1,294.4 280.0,295.6 C282.9,296.8 286.4,298.6 289.6,300.4 C292.8,302.2 296.0,304.3 299.2,306.2 C302.4,308.1 305.6,309.8 308.8,311.9 C312.0,314.0 315.9,316.5 318.5,318.7 C321.1,320.9 322.3,322.8 324.5,325.0 C326.7,327.2 329.2,329.6 331.5,332.0 C333.8,334.4 335.2,336.2 338.0,339.5 C340.8,342.8 344.4,347.4 348.0,351.5 C351.6,355.6 356.4,360.4 359.8,364.2 C363.2,367.9 365.2,371.2 368.4,374.0 C371.6,376.8 375.3,378.7 379.2,380.8 C383.1,382.9 387.7,384.8 392.0,386.4 C396.3,388.0 400.1,389.2 404.9,390.4 C409.7,391.6 415.8,392.8 420.9,393.7 C426.0,394.6 430.8,395.3 435.3,396.1 C439.8,396.9 444.0,397.7 448.1,398.5 C452.2,399.3 456.4,400.3 460.0,400.9 C463.6,401.5 466.0,401.1 470.0,402.0 C474.0,402.9 479.7,404.5 483.9,406.1 C488.1,407.7 492.1,409.7 495.0,411.7 C497.9,413.7 500.4,416.3 501.5,418.2 C502.6,420.1 502.6,421.5 501.5,423.0 C500.4,424.5 497.9,425.9 495.0,427.2 C492.1,428.5 489.7,430.0 483.9,430.8 C478.1,431.6 467.3,431.9 460.0,432.0 C452.7,432.1 446.7,431.7 440.0,431.5 C433.3,431.3 427.3,431.1 420.0,430.7 C412.7,430.3 403.2,429.6 396.3,429.3 C389.4,429.0 383.8,428.8 378.8,428.9 C373.8,429.0 369.7,429.5 366.5,430.1 C363.3,430.7 363.1,431.8 359.5,432.6 C355.9,433.4 351.6,434.6 345.0,435.0 C338.4,435.4 326.3,435.4 320.0,435.0 C313.7,434.6 310.3,433.3 307.0,432.4 C303.7,431.4 302.2,430.3 300.0,429.3 C297.8,428.3 296.2,427.8 293.5,426.6 C290.8,425.4 287.2,423.9 283.8,422.3 C280.4,420.7 276.3,419.1 273.1,417.2 C269.9,415.3 267.4,413.3 264.5,411.2 C261.6,409.1 258.4,406.5 256.0,404.8 C253.6,403.1 251.0,417.1 250.0,401.0 C249.0,384.9 249.2,324.0 250.0,308.0 C250.8,292.0 253.7,307.1 255.0,305.2Z" fill="#f2ad00" fill-opacity="0.3" stroke="#f2ad00" stroke-width="1.1" stroke-linejoin="round"/>
<path d="M255.0,364.2 C256.6,362.0 257.5,356.5 258.8,352.7 C260.1,348.9 261.4,344.7 262.7,341.2 C264.0,337.7 264.9,333.8 266.5,331.5 C268.1,329.2 270.1,328.5 272.3,327.7 C274.6,326.9 277.1,326.7 280.0,326.7 C282.9,326.7 286.1,326.9 289.6,327.7 C293.1,328.5 297.7,330.1 301.2,331.5 C304.7,332.9 308.5,334.9 310.8,336.3 C313.1,337.7 313.4,337.1 315.0,340.0 C316.6,342.9 318.7,350.1 320.5,353.9 C322.3,357.7 324.4,360.3 325.6,363.0 C326.9,365.7 327.1,367.5 328.0,370.0 C328.9,372.5 329.4,374.1 330.8,377.9 C332.2,381.7 334.4,389.5 336.1,393.0 C337.8,396.5 339.5,397.1 341.2,399.1 C342.9,401.1 345.0,403.2 346.3,405.2 C347.6,407.2 348.7,409.2 348.9,411.3 C349.1,413.4 348.2,415.6 347.3,417.5 C346.4,419.4 345.1,421.3 343.2,422.6 C341.3,423.9 339.0,424.6 336.1,425.1 C333.2,425.6 329.3,425.8 325.9,425.7 C322.5,425.6 319.1,425.3 315.7,424.6 C312.3,423.9 308.8,422.9 305.4,421.6 C302.0,420.3 298.7,418.6 295.2,417.0 C291.7,415.4 287.7,414.1 284.5,412.0 C281.3,409.9 278.5,406.1 275.9,404.1 C273.3,402.1 271.4,401.2 269.1,399.8 C266.8,398.4 264.3,397.0 262.3,395.5 C260.3,394.0 258.3,392.1 257.1,390.8 C255.9,389.5 256.4,388.8 255.0,387.8 C253.7,386.8 250.0,388.6 249.0,385.0 C248.0,381.4 248.0,369.5 249.0,366.0 C250.0,362.5 253.4,366.4 255.0,364.2Z" fill="#f2ad00" fill-opacity="0.3" stroke="#f2ad00" stroke-width="1.1" stroke-linejoin="round"/>
<path d="M270.4,375.8 C270.6,373.6 270.7,373.0 272.3,371.9 C273.9,370.8 277.1,369.5 280.0,369.0 C282.9,368.5 286.4,368.4 289.6,369.0 C292.8,369.6 296.6,371.1 299.2,372.9 C301.8,374.7 303.6,376.9 305.0,379.6 C306.4,382.3 307.4,385.7 307.9,389.2 C308.4,392.7 308.4,398.2 307.9,400.8 C307.4,403.4 306.8,404.0 305.0,404.6 C303.2,405.2 300.5,405.2 297.3,404.6 C294.1,404.0 289.3,402.4 285.8,400.8 C282.3,399.2 278.6,397.6 276.2,395.0 C273.8,392.4 272.3,388.6 271.3,385.4 C270.3,382.2 270.2,378.1 270.4,375.8Z" fill="#f2ad00" fill-opacity="0.3" stroke="#f2ad00" stroke-width="1.1" stroke-linejoin="round"/>
<path d="M268.5,343.1 C269.0,340.4 269.7,338.1 271.3,336.3 C272.9,334.5 275.1,333.1 278.1,332.5 C281.2,331.9 285.8,331.9 289.6,332.5 C293.5,333.1 297.7,334.7 301.2,336.3 C304.7,337.9 307.5,339.4 310.8,342.0 C314.1,344.6 317.6,348.8 321.0,352.0 C324.4,355.2 327.7,358.9 331.0,361.5 C334.3,364.1 337.6,366.3 341.0,367.5 C344.4,368.7 348.1,368.3 351.3,368.5 C354.5,368.7 355.9,368.5 360.0,368.8 C364.1,369.1 370.7,369.7 376.0,370.4 C381.3,371.1 386.6,372.0 392.0,372.8 C397.4,373.6 402.8,374.4 408.1,375.2 C413.5,376.0 419.6,376.8 424.1,377.6 C428.6,378.4 431.3,379.1 435.3,380.0 C439.3,380.9 444.0,382.1 448.1,383.2 C452.2,384.3 456.4,385.2 460.0,386.4 C463.6,387.5 466.0,388.8 470.0,390.1 C474.0,391.4 478.1,392.3 483.9,394.3 C489.7,396.3 498.9,399.5 504.7,401.9 C510.5,404.3 514.9,406.6 518.6,408.9 C522.3,411.2 525.0,413.2 526.9,415.8 C528.8,418.4 529.4,421.3 529.7,424.2 C530.0,427.1 529.1,430.0 528.5,433.0 C527.9,436.0 547.4,440.5 526.0,442.0 C504.6,443.5 423.1,443.6 400.0,442.0 C376.9,440.4 390.8,434.4 387.6,432.6 C384.4,430.8 383.5,431.9 380.6,431.0 C377.7,430.1 373.5,428.8 370.0,427.5 C366.5,426.2 363.0,424.8 359.5,423.1 C356.0,421.4 352.6,419.6 349.0,417.5 C345.4,415.4 341.1,412.5 338.1,410.3 C335.1,408.1 333.6,405.9 331.0,404.2 C328.4,402.5 326.2,401.0 322.8,400.1 C319.4,399.2 314.4,399.5 310.5,399.1 C306.6,398.7 303.3,398.5 299.2,397.5 C295.1,396.5 290.0,394.5 285.8,393.1 C281.6,391.7 277.4,390.8 274.2,389.2 C271.0,387.6 268.1,385.4 266.5,383.5 C264.9,381.6 264.6,379.3 264.6,377.7 C264.6,376.1 265.5,375.1 266.5,373.8 C267.5,372.5 269.3,371.6 270.4,370.0 C271.5,368.4 273.1,366.1 273.3,364.2 C273.5,362.3 272.1,360.4 271.3,358.5 C270.5,356.6 269.0,355.3 268.5,352.7 C268.0,350.1 268.0,345.8 268.5,343.1Z" fill="#8cbb2c" fill-opacity="0.3" stroke="#8cbb2c" stroke-width="1.1" stroke-linejoin="round"/>
<path d="M354.3,399.5 C353.6,396.1 356.6,392.8 360.4,390.9 C364.1,388.9 370.0,388.1 376.8,387.8 C383.6,387.5 393.8,388.1 401.3,388.8 C408.8,389.5 414.9,390.7 421.7,391.9 C428.5,393.1 435.4,394.5 442.2,396.0 C449.0,397.5 456.3,399.6 462.6,401.1 C468.9,402.6 474.6,403.8 480.0,405.2 C485.4,406.6 490.5,407.9 495.0,409.5 C499.5,411.1 504.0,412.9 507.0,415.0 C510.0,417.1 512.2,419.7 513.0,422.0 C513.8,424.3 513.3,427.2 512.0,429.0 C510.7,430.8 510.3,432.7 505.0,433.0 C499.7,433.3 488.8,431.6 480.0,431.0 C471.2,430.4 462.1,430.4 452.4,429.7 C442.7,429.0 431.9,428.1 421.7,426.6 C411.5,425.1 400.6,423.1 391.1,420.5 C381.6,417.9 370.6,414.8 364.5,411.3 C358.4,407.8 355.0,402.9 354.3,399.5Z" fill="#8cbb2c" fill-opacity="0.3" stroke="#8cbb2c" stroke-width="1.0" stroke-linejoin="round"/>
<path d="M384.8,406.5 C385.3,404.8 388.1,403.4 392.0,402.5 C395.9,401.6 402.2,400.9 408.1,400.9 C414.0,400.9 421.4,401.6 427.3,402.5 C433.2,403.4 439.6,404.8 443.3,406.5 C447.0,408.2 449.7,411.0 449.7,412.9 C449.7,414.8 447.6,416.5 443.3,417.7 C439.0,418.9 430.5,420.0 424.1,420.1 C417.7,420.2 410.8,419.7 404.9,418.5 C399.0,417.3 392.1,414.9 388.8,412.9 C385.5,410.9 384.3,408.2 384.8,406.5Z" fill="#8cbb2c" fill-opacity="0.3" stroke="#8cbb2c" stroke-width="1.0" stroke-linejoin="round"/>
<path d="M430.0,412.0 C432.0,409.7 439.2,406.8 445.0,406.0 C450.8,405.2 458.3,406.2 465.0,407.0 C471.7,407.8 479.2,409.3 485.0,411.0 C490.8,412.7 497.0,414.8 500.0,417.0 C503.0,419.2 504.3,422.0 503.0,424.0 C501.7,426.0 497.5,428.0 492.0,429.0 C486.5,430.0 477.3,430.3 470.0,430.0 C462.7,429.7 454.2,428.7 448.0,427.0 C441.8,425.3 436.0,422.5 433.0,420.0 C430.0,417.5 428.0,414.3 430.0,412.0Z" fill="#8cbb2c" fill-opacity="0.25" stroke="#8cbb2c" stroke-width="0.8" stroke-linejoin="round"/>
<path d="M455.0,417.0 C457.0,415.3 464.7,413.2 470.0,413.0 C475.3,412.8 482.7,414.7 487.0,416.0 C491.3,417.3 495.5,419.3 496.0,421.0 C496.5,422.7 494.0,425.0 490.0,426.0 C486.0,427.0 477.3,427.5 472.0,427.0 C466.7,426.5 460.8,424.7 458.0,423.0 C455.2,421.3 453.0,418.7 455.0,417.0Z" fill="#8cbb2c" fill-opacity="0.25" stroke="#8cbb2c" stroke-width="0.8" stroke-linejoin="round"/>
<text x="290.3" y="186.6" font-size="8.7" fill="#5e111b" stroke="#5e111b" stroke-width="0.3" text-anchor="middle" transform="rotate(-27 290.3 186.6)">10.4</text>
<text x="303.8" y="204.5" font-size="8.7" fill="#5e111b" stroke="#5e111b" stroke-width="0.3" text-anchor="middle" transform="rotate(-27 303.8 204.5)">6.0</text>
<text x="319.3" y="226.2" font-size="8.7" fill="#5e111b" stroke="#5e111b" stroke-width="0.3" text-anchor="middle" transform="rotate(-27 319.3 226.2)">3.3</text>
<text x="332.8" y="247.0" font-size="8.7" fill="#5e111b" stroke="#5e111b" stroke-width="0.3" text-anchor="middle" transform="rotate(-27 332.8 247.0)">1.1</text>
<text x="376.3" y="269.0" font-size="8.7" fill="#5e111b" stroke="#5e111b" stroke-width="0.3" text-anchor="middle" transform="rotate(62 376.3 269.0)">0.4</text>
<text x="474.0" y="359.5" font-size="8.7" fill="#103f7a" stroke="#103f7a" stroke-width="0.45" text-anchor="middle" transform="rotate(18 474.0 359.5) translate(474.0 359.5) skewX(-8) translate(-474.0 -359.5)">4.9</text>
<text x="472.0" y="368.0" font-size="8.7" fill="#103f7a" stroke="#103f7a" stroke-width="0.45" text-anchor="middle" transform="rotate(8 472.0 368.0) translate(472.0 368.0) skewX(-8) translate(-472.0 -368.0)">11.2</text>
<text x="471.0" y="377.8" font-size="8.7" fill="#103f7a" stroke="#103f7a" stroke-width="0.45" text-anchor="middle" transform="rotate(0 471.0 377.8)">20.0</text>
<text x="473.5" y="387.0" font-size="8.7" fill="#103f7a" stroke="#103f7a" stroke-width="0.45" text-anchor="middle" transform="rotate(10 473.5 387.0)">28.3</text>
<text x="470.5" y="397.0" font-size="8.7" fill="#103f7a" stroke="#103f7a" stroke-width="0.45" text-anchor="middle" transform="rotate(-8 470.5 397.0)">37.2</text>
<text x="483.0" y="404.0" font-size="8.7" fill="#103f7a" stroke="#103f7a" stroke-width="0.45" text-anchor="middle" transform="rotate(18 483.0 404.0)">46.8</text>
<text x="497.0" y="410.0" font-size="8.7" fill="#103f7a" stroke="#103f7a" stroke-width="0.45" text-anchor="middle" transform="rotate(18 497.0 410.0)">59.3</text>
<text x="511.0" y="417.0" font-size="8.7" fill="#103f7a" stroke="#103f7a" stroke-width="0.45" text-anchor="middle" transform="rotate(18 511.0 417.0)">71.7</text>
<text x="510.5" y="427.5" font-size="8.7" fill="#103f7a" stroke="#103f7a" stroke-width="0.45" text-anchor="middle" transform="rotate(18 510.5 427.5)">83.7</text>
<text x="429.4" y="378.3" font-size="8.7" fill="#5a6a0c" stroke="#5a6a0c" stroke-width="0.4" text-anchor="middle" transform="rotate(0 429.4 378.3) translate(429.4 378.3) skewX(-10) translate(-429.4 -378.3)">0.4</text>
<text x="407.0" y="387.5" font-size="8.7" fill="#5a6a0c" stroke="#5a6a0c" stroke-width="0.4" text-anchor="middle" transform="rotate(0 407.0 387.5)">1.1</text>
<text x="395.8" y="400.2" font-size="8.7" fill="#5a6a0c" stroke="#5a6a0c" stroke-width="0.4" text-anchor="middle" transform="rotate(0 395.8 400.2)">1.6</text>
<text x="353.3" y="352.8" font-size="8.7" fill="#94690a" stroke="#94690a" stroke-width="0.3" text-anchor="middle" transform="rotate(62 353.3 352.8)">0.3</text>
<text x="328.0" y="367.5" font-size="8.7" fill="#94690a" stroke="#94690a" stroke-width="0.3" text-anchor="middle" transform="rotate(62 328.0 367.5)">0.8</text>
<text x="305.5" y="378.0" font-size="8.7" fill="#94690a" stroke="#94690a" stroke-width="0.3" text-anchor="middle" transform="rotate(62 305.5 378.0)">1.6</text>
</g>
<rect x="445.8" y="140.6" width="95.6" height="64.4" rx="2.5" fill="#fff" fill-opacity="0.8" stroke="#d0d0d0" stroke-width="0.9"/>
<rect x="453.3" y="148.1" width="22.2" height="8.6" fill="#c01f2f" fill-opacity="0.3" stroke="#c01f2f" stroke-width="1.1"/>
<rect x="453.3" y="148.1" width="22.2" height="8.6" fill="#fff" fill-opacity="0" />
<text x="480.4" y="156.5" font-size="11.2" text-anchor="start" font-weight="normal" fill="#111">Anaerobic</text>
<rect x="453.3" y="161.8" width="22.2" height="8.6" fill="#0b6ab4" fill-opacity="0.3" stroke="#0b6ab4" stroke-width="1.1"/>
<rect x="453.3" y="161.8" width="22.2" height="8.6" fill="#fff" fill-opacity="0" />
<text x="480.4" y="170.15" font-size="11.2" text-anchor="start" font-weight="normal" fill="#111">Aerobic</text>
<rect x="453.3" y="175.4" width="22.2" height="8.6" fill="#8ab82a" fill-opacity="0.3" stroke="#8ab82a" stroke-width="1.1"/>
<rect x="453.3" y="175.4" width="22.2" height="8.6" fill="#fff" fill-opacity="0" />
<text x="480.4" y="183.8" font-size="11.2" text-anchor="start" font-weight="normal" fill="#111">Facultative</text>
<rect x="453.3" y="189.1" width="22.2" height="8.6" fill="#f5b000" fill-opacity="0.3" stroke="#f5b000" stroke-width="1.1"/>
<rect x="453.3" y="189.1" width="22.2" height="8.6" fill="#fff" fill-opacity="0" />
<text x="480.4" y="197.45000000000002" font-size="11.2" text-anchor="start" font-weight="normal" fill="#111">Other</text>
<rect x="255.4" y="135.3" width="291.1" height="298.0" fill="none" stroke="#111" stroke-width="1.2"/>
<line x1="255.4" y1="433.3" x2="255.4" y2="436.8" stroke="#111" stroke-width="0.9"/>
<text x="255.4" y="448.8" font-size="10.9" text-anchor="middle" font-weight="normal" fill="#111" transform="translate(255.4 448.8) scale(1 1.07) translate(-255.4 -448.8)">0</text>
<line x1="252.0" y1="433.3" x2="255.4" y2="433.3" stroke="#111" stroke-width="0.9"/>
<text x="247.9" y="437.5" font-size="10.9" text-anchor="end" font-weight="normal" fill="#111" transform="translate(247.9 437.5) scale(1 1.08) translate(-247.9 -437.5)">0</text>
<line x1="313.6" y1="433.3" x2="313.6" y2="436.8" stroke="#111" stroke-width="0.9"/>
<text x="313.6" y="448.8" font-size="10.9" text-anchor="middle" font-weight="normal" fill="#111" transform="translate(313.6 448.8) scale(1 1.07) translate(-313.6 -448.8)">20</text>
<line x1="252.0" y1="373.7" x2="255.4" y2="373.7" stroke="#111" stroke-width="0.9"/>
<text x="247.9" y="377.9" font-size="10.9" text-anchor="end" font-weight="normal" fill="#111" transform="translate(247.9 377.9) scale(1 1.08) translate(-247.9 -377.9)">20</text>
<line x1="371.8" y1="433.3" x2="371.8" y2="436.8" stroke="#111" stroke-width="0.9"/>
<text x="371.8" y="448.8" font-size="10.9" text-anchor="middle" font-weight="normal" fill="#111" transform="translate(371.8 448.8) scale(1 1.07) translate(-371.8 -448.8)">40</text>
<line x1="252.0" y1="314.2" x2="255.4" y2="314.2" stroke="#111" stroke-width="0.9"/>
<text x="247.9" y="318.4" font-size="10.9" text-anchor="end" font-weight="normal" fill="#111" transform="translate(247.9 318.4) scale(1 1.08) translate(-247.9 -318.4)">40</text>
<line x1="430.1" y1="433.3" x2="430.1" y2="436.8" stroke="#111" stroke-width="0.9"/>
<text x="430.1" y="448.8" font-size="10.9" text-anchor="middle" font-weight="normal" fill="#111" transform="translate(430.1 448.8) scale(1 1.07) translate(-430.1 -448.8)">60</text>
<line x1="252.0" y1="254.6" x2="255.4" y2="254.6" stroke="#111" stroke-width="0.9"/>
<text x="247.9" y="258.8" font-size="10.9" text-anchor="end" font-weight="normal" fill="#111" transform="translate(247.9 258.8) scale(1 1.08) translate(-247.9 -258.8)">60</text>
<line x1="488.3" y1="433.3" x2="488.3" y2="436.8" stroke="#111" stroke-width="0.9"/>
<text x="488.3" y="448.8" font-size="10.9" text-anchor="middle" font-weight="normal" fill="#111" transform="translate(488.3 448.8) scale(1 1.07) translate(-488.3 -448.8)">80</text>
<line x1="252.0" y1="195.0" x2="255.4" y2="195.0" stroke="#111" stroke-width="0.9"/>
<text x="247.9" y="199.2" font-size="10.9" text-anchor="end" font-weight="normal" fill="#111" transform="translate(247.9 199.2) scale(1 1.08) translate(-247.9 -199.2)">80</text>
<line x1="546.5" y1="433.3" x2="546.5" y2="436.8" stroke="#111" stroke-width="0.9"/>
<text x="546.5" y="448.8" font-size="10.9" text-anchor="middle" font-weight="normal" fill="#111" transform="translate(546.5 448.8) scale(1 1.07) translate(-546.5 -448.8)">100</text>
<line x1="252.0" y1="135.5" x2="255.4" y2="135.5" stroke="#111" stroke-width="0.9"/>
<text x="247.9" y="139.7" font-size="10.9" text-anchor="end" font-weight="normal" fill="#111" transform="translate(247.9 139.7) scale(1 1.08) translate(-247.9 -139.7)">100</text>
<text x="403.6" y="465.0" font-size="11.25" text-anchor="middle" font-weight="normal" fill="#111" transform="translate(403.6 465.0) scale(1 1.1) translate(-403.6 -465.0)">Confidence for aerobic [%]</text>
<text x="225.4" y="291.2" font-size="11.2" text-anchor="middle" font-weight="normal" fill="#111" transform="rotate(-90 225.4 291.2)">Confidence for anaerobic [%]</text>
<line x1="556.5" y1="195.0" x2="617.3" y2="195.0" stroke="#d9d9d9" stroke-width="0.9"/>
<line x1="556.5" y1="254.6" x2="617.3" y2="254.6" stroke="#d9d9d9" stroke-width="0.9"/>
<line x1="556.5" y1="314.2" x2="617.3" y2="314.2" stroke="#d9d9d9" stroke-width="0.9"/>
<line x1="556.5" y1="373.7" x2="617.3" y2="373.7" stroke="#d9d9d9" stroke-width="0.9"/>
<line x1="556.5" y1="135.5" x2="617.3" y2="135.5" stroke="#d9d9d9" stroke-width="0.9"/>
<line x1="587.3" y1="135.5" x2="587.3" y2="432.9" stroke="#d9d9d9" stroke-width="0.9"/>
<line x1="617.3" y1="135.5" x2="617.3" y2="432.9" stroke="#d9d9d9" stroke-width="0.9"/>
<path d="M556.5,135.6 L560.3,135.6 L560.3,150.5 L570.0,150.5 L570.0,165.4 L565.9,165.4 L565.9,180.5 L561.5,180.5 L561.5,195.4 L559.2,195.4 L559.2,210.0 L558.0,210.0 L558.0,224.9 L557.4,224.9 L557.4,239.8 L557.2,239.8 L557.2,254.7 L557.1,254.7 L557.1,269.6 L557.0,269.6 L557.0,284.5 L557.0,284.5 L557.0,299.4 L557.0,299.4 L557.0,314.3 L557.3,314.3 L557.3,329.2 L557.2,329.2 L557.2,344.1 L556.5,344.1Z" fill="#c01f2f" fill-opacity="0.25" stroke="#c01f2f" stroke-width="1.1"/>
<path d="M556.5,358.5 L558.2,358.5 L558.2,373.3 L559.5,373.3 L559.5,388.0 L567.4,388.0 L567.4,402.8 L597.4,402.8 L597.4,417.4 L614.1,417.4 L614.1,432.9 L556.5,432.9Z" fill="#0b6ab4" fill-opacity="0.3" stroke="#0b6ab4" stroke-width="1.1"/>
<line x1="556.5" y1="135.5" x2="556.5" y2="433.5" stroke="#111" stroke-width="1.2"/>
<line x1="555.9" y1="432.9" x2="617.6999999999999" y2="432.9" stroke="#111" stroke-width="1.2"/>
<line x1="587.1" y1="432.9" x2="587.1" y2="436.29999999999995" stroke="#111" stroke-width="0.9"/>
<text x="586.3000000000001" y="449.2" font-size="8.3" text-anchor="middle" font-weight="normal" fill="#111">1000</text>
<line x1="617.3" y1="432.9" x2="617.3" y2="436.29999999999995" stroke="#111" stroke-width="0.9"/>
<text x="616.5" y="449.2" font-size="8.3" text-anchor="middle" font-weight="normal" fill="#111">2000</text>
<text x="589.1" y="462.3" font-size="9.4" text-anchor="middle" font-weight="normal" fill="#111">Count</text>
<line x1="629.8" y1="195.0" x2="678.2" y2="195.0" stroke="#d9d9d9" stroke-width="0.9"/>
<line x1="629.8" y1="254.6" x2="678.2" y2="254.6" stroke="#d9d9d9" stroke-width="0.9"/>
<line x1="629.8" y1="314.2" x2="678.2" y2="314.2" stroke="#d9d9d9" stroke-width="0.9"/>
<line x1="629.8" y1="373.7" x2="678.2" y2="373.7" stroke="#d9d9d9" stroke-width="0.9"/>
<line x1="629.8" y1="135.5" x2="678.2" y2="135.5" stroke="#d9d9d9" stroke-width="0.9"/>
<line x1="653.9" y1="135.5" x2="653.9" y2="432.9" stroke="#d9d9d9" stroke-width="0.9"/>
<line x1="678.2" y1="135.5" x2="678.2" y2="432.9" stroke="#d9d9d9" stroke-width="0.9"/>
<path d="M629.8,287.2 L630.6,287.2 L630.6,302.0 L630.6,302.0 L630.6,316.4 L632.9,316.4 L632.9,331.0 L634.4,331.0 L634.4,345.0 L634.6,345.0 L634.6,359.6 L634.6,359.6 L634.6,373.5 L638.9,373.5 L638.9,388.0 L650.2,388.0 L650.2,402.6 L677.3,402.6 L677.3,416.4 L654.9,416.4 L654.9,432.9 L629.8,432.9Z" fill="#8ab82a" fill-opacity="0.3" stroke="#8ab82a" stroke-width="1.1"/>
<path d="M629.8,188.0 L630.6,188.0 L630.6,203.0 L629.8,203.0 L629.8,259.0 L630.6,259.0 L630.6,273.7 L633.3,273.7 L633.3,288.2 L633.3,288.2 L633.3,302.5 L635.3,302.5 L635.3,316.4 L638.9,316.4 L638.9,331.0 L644.7,331.0 L644.7,345.0 L646.4,345.0 L646.4,359.6 L651.7,359.6 L651.7,374.2 L655.3,374.2 L655.3,388.3 L655.3,388.3 L655.3,402.6 L663.0,402.6 L663.0,416.4 L650.6,416.4 L650.6,432.9 L629.8,432.9Z" fill="#f5b000" fill-opacity="0.3" stroke="#f5b000" stroke-width="1.1"/>
<line x1="629.8" y1="135.5" x2="629.8" y2="433.5" stroke="#111" stroke-width="1.2"/>
<line x1="629.1999999999999" y1="432.9" x2="678.6" y2="432.9" stroke="#111" stroke-width="1.2"/>
<line x1="654.2" y1="432.9" x2="654.2" y2="436.29999999999995" stroke="#111" stroke-width="0.9"/>
<text x="654.2" y="449.2" font-size="8.3" text-anchor="middle" font-weight="normal" fill="#111">125</text>
<line x1="678.4" y1="432.9" x2="678.4" y2="436.29999999999995" stroke="#111" stroke-width="0.9"/>
<text x="678.4" y="449.2" font-size="8.3" text-anchor="middle" font-weight="normal" fill="#111">250</text>
<text x="655.4" y="462.3" font-size="9.4" text-anchor="middle" font-weight="normal" fill="#111">Count</text>
<text x="0.0" y="10.7" font-size="15" text-anchor="start" font-weight="bold" fill="#111">A</text>
<text x="210.0" y="10.7" font-size="15" text-anchor="start" font-weight="bold" fill="#111">B</text>
</svg></body></html>
